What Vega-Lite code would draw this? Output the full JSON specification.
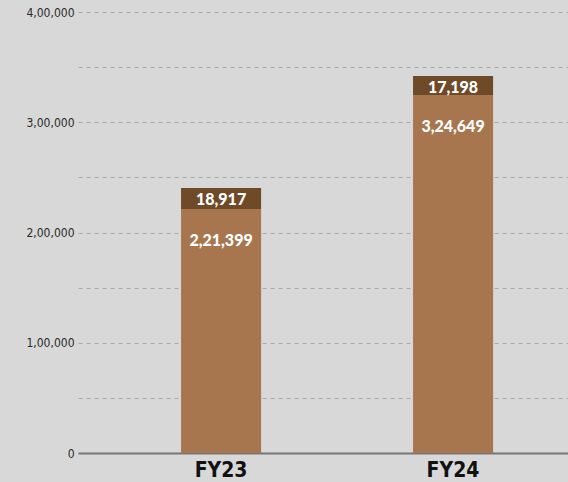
{
  "$schema": "https://vega.github.io/schema/vega-lite/v6.json",
  "width": 490,
  "height": 441,
  "autosize": "none",
  "padding": {"left": 78, "top": 12, "right": 0, "bottom": 29},
  "background": "#d7d8d7",
  "config": {"view": {"stroke": null}},
  "data": {"values": [
    {"year": "FY23", "segment": "base", "value": 221399, "label": "2,21,399"},
    {"year": "FY23", "segment": "top", "value": 18917, "label": "18,917"},
    {"year": "FY24", "segment": "base", "value": 324649, "label": "3,24,649"},
    {"year": "FY24", "segment": "top", "value": 17198, "label": "17,198"}
  ]},
  "transform": [
    {"stack": "value", "groupby": ["year"], "sort": [{"field": "segment", "order": "ascending"}], "as": ["v0", "v1"]}
  ],
  "encoding": {
    "x": {
      "field": "year", "type": "nominal", "title": null,
      "scale": {"paddingInner": 0.655, "paddingOuter": 0.3836, "align": 0.579},
      "axis": {
        "labelAngle": 0, "ticks": false, "domainColor": "#777777", "domainWidth": 2,
        "labelFont": "DejaVu Sans Condensed, Roboto, sans-serif", "labelFontSize": 21, "labelFontWeight": "bold",
        "labelColor": "#111111", "labelPadding": 6
      }
    }
  },
  "layer": [
    {
      "mark": {"type": "bar"},
      "encoding": {
        "y": {
          "field": "v1", "type": "quantitative", "title": null,
          "scale": {"domain": [0, 400000], "nice": false},
          "axis": {
            "values": [0, 50000, 100000, 150000, 200000, 250000, 300000, 350000, 400000],
            "labelExpr": "datum.value == 0 ? '0' : (datum.value % 100000 == 0 ? (datum.value / 100000) + ',00,000' : '')",
            "domain": false, "ticks": false, "grid": true, "gridColor": "#a9a9a9", "gridDash": [4, 4], "gridWidth": 1,
            "labelFont": "DejaVu Sans Condensed, Roboto, sans-serif", "labelFontSize": 12, "labelColor": "#2a2a2a", "labelPadding": 4
          }
        },
        "y2": {"field": "v0"},
        "color": {
          "field": "segment", "type": "nominal", "legend": null,
          "scale": {"domain": ["base", "top"], "range": ["#a8764e", "#6f4a28"]}
        }
      }
    },
    {
      "transform": [{"filter": "datum.segment == 'top'"}],
      "mark": {"type": "text", "color": "white", "font": "Lato, Open Sans, sans-serif", "fontWeight": 900, "fontSize": 16, "baseline": "middle", "dy": 12},
      "encoding": {"y": {"field": "v1", "type": "quantitative"}, "text": {"field": "label"}}
    },
    {
      "transform": [{"filter": "datum.segment == 'base'"}],
      "mark": {"type": "text", "color": "white", "font": "Lato, Open Sans, sans-serif", "fontWeight": 900, "fontSize": 16, "baseline": "middle", "dy": 32},
      "encoding": {"y": {"field": "v1", "type": "quantitative"}, "text": {"field": "label"}}
    }
  ]
}
